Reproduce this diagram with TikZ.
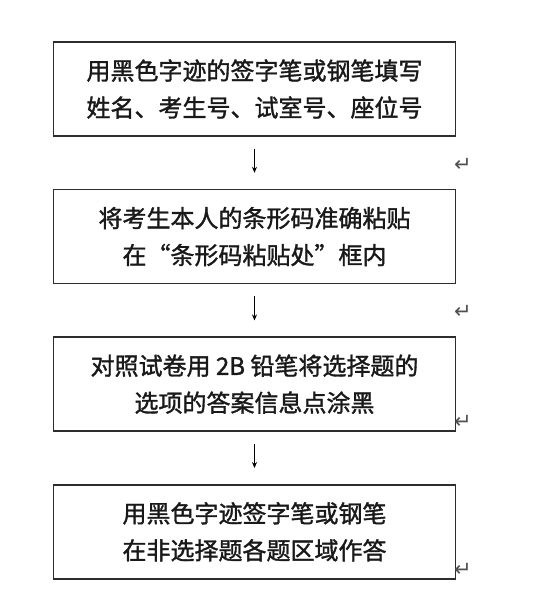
\documentclass[tikz,border=0pt]{standalone}
\usepackage{fontspec}
\newfontfamily\cjk[FakeBold=1.4]{Noto Sans CJK SC}
\newfontfamily\symfont{DejaVu Sans}
\usetikzlibrary{positioning,arrows.meta}

\begin{document}
\begin{tikzpicture}[x=1pt, y=-1pt, node distance=52pt]
	\definecolor{linecolor}{RGB}{45, 45, 45}
	\definecolor{markcolor}{RGB}{80, 80, 80}

	\tikzset{
		stepbox/.style={draw=linecolor, line width=1.6pt, minimum width=402pt, minimum height=94pt,
			inner sep=0pt, align=center, text=black!90, font=\cjk\fontsize{24}{37}\selectfont},
		flow/.style={-{Stealth[length=6pt, width=5pt]}, line width=0.8pt, shorten <=12pt, shorten >=16pt},
		retmark/.style={text=markcolor, inner sep=0pt, font=\symfont\fontsize{21}{21}\selectfont}
	}

	\useasboundingbox (0, 0) rectangle (540, 593);

	% steps
	\node[stepbox] (fill) at (254.5, 89) {用黑色字迹的签字笔或钢笔填写\\姓名、考生号、试室号、座位号};
	\node[stepbox, below=of fill] (barcode) {将考生本人的条形码准确粘贴\\在“条形码粘贴处”框内};
	\node[stepbox, below=of barcode] (choice) {对照试卷用 2B 铅笔将选择题的\\选项的答案信息点涂黑};
	\node[stepbox, below=of choice] (answer) {用黑色字迹签字笔或钢笔\\在非选择题各题区域作答};

	% down arrows
	\draw[flow] (fill) -- (barcode);
	\draw[flow] (barcode) -- (choice);
	\draw[flow] (choice) -- (answer);

	% paragraph marks
	\node[retmark] (mark1) at (463, 165) {↵};
	\node[retmark] (mark2) at (463, 312) {↵};
	\node[retmark] (mark3) at (463, 422) {↵};
	\node[retmark] (mark4) at (463, 570) {↵};
\end{tikzpicture}
\end{document}
